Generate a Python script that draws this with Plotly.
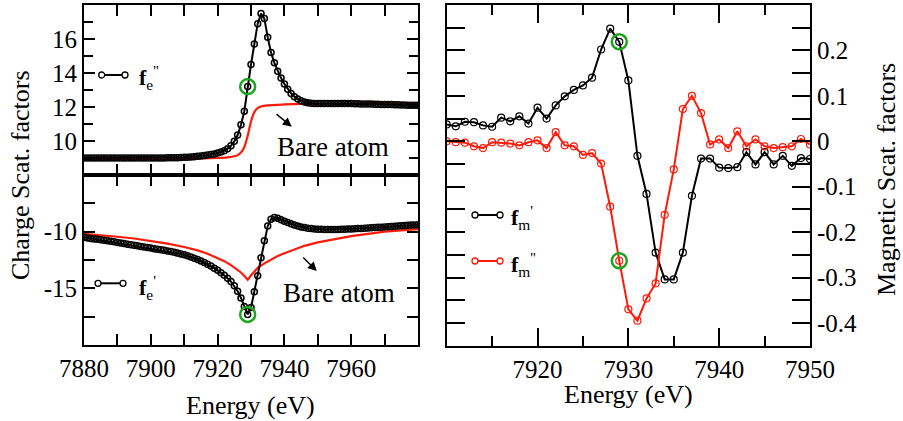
import plotly.graph_objects as go

W, H = 903, 421

# ---------------- data ----------------
energy_left = list(range(7880, 7981))          # 1 eV grid, left panels
fe2_data = [9.0] * 25 + [
    9.01, 9.01, 9.02, 9.02, 9.03, 9.04, 9.05, 9.06, 9.08, 9.10,
    9.12, 9.14, 9.17, 9.20, 9.24, 9.29, 9.35, 9.43, 9.55, 9.72,
    9.98, 10.35, 10.95, 11.75, 13.2, 14.5, 15.7, 16.9, 17.5, 17.2,
    16.1, 15.2, 14.6, 14.1, 13.7, 13.35, 13.05, 12.8, 12.6, 12.47,
    12.37, 12.3, 12.25, 12.22,
    12.2, 12.2, 12.2, 12.2, 12.2, 12.2, 12.2, 12.2, 12.2, 12.2, 12.2, 12.2,
    12.19, 12.19, 12.18, 12.18, 12.17, 12.17, 12.16, 12.16, 12.15, 12.15,
    12.14, 12.14, 12.13, 12.13, 12.12, 12.12, 12.11, 12.11, 12.1, 12.1]
fe1_data = [
    -10.5, -10.55, -10.6, -10.64, -10.68, -10.72, -10.76, -10.8, -10.85, -10.9,
    -10.95, -11.0, -11.05, -11.1, -11.15, -11.2, -11.25, -11.3, -11.35, -11.4,
    -11.45, -11.5, -11.55, -11.6, -11.65, -11.7, -11.76, -11.82, -11.89, -11.96,
    -12.04, -12.13, -12.23, -12.34, -12.46, -12.59, -12.73, -12.88, -13.04, -13.22,
    -13.41, -13.62, -13.85, -14.1, -14.4, -14.78, -15.25, -15.85, -16.6, -17.3,
    -16.7, -15.3, -13.9, -12.3, -10.8, -9.5, -8.9, -8.75, -8.82, -8.95,
    -9.08, -9.2, -9.31, -9.41, -9.5, -9.58, -9.64, -9.69, -9.73, -9.76,
    -9.78, -9.79, -9.8, -9.8, -9.8, -9.8, -9.8, -9.79, -9.78, -9.77,
    -9.76, -9.75, -9.73, -9.72, -9.7, -9.68, -9.66, -9.64, -9.62, -9.6,
    -9.58, -9.56, -9.54, -9.52, -9.5, -9.48, -9.46, -9.44, -9.42, -9.41, -9.4]

bare2_energy = [7880, 7900, 7910, 7915, 7920, 7923, 7925, 7926, 7927, 7928,
                7929, 7930, 7931, 7932, 7933, 7935, 7940, 7950, 7960, 7970, 7980]
bare2_data = [8.93, 8.94, 8.95, 8.97, 9.0, 9.04, 9.1, 9.17, 9.32, 9.65,
              10.3, 11.15, 11.7, 11.93, 12.03, 12.1, 12.15, 12.2, 12.2, 12.18, 12.12]

bare1_energy = [7880, 7885, 7890, 7895, 7900, 7905, 7910, 7914, 7917, 7920,
                7922, 7924, 7926, 7927, 7928, 7929, 7930, 7931, 7932, 7934,
                7936, 7938, 7940, 7943, 7946, 7950, 7955, 7960, 7965, 7970,
                7975, 7980]
bare1_data = [-10.2, -10.3, -10.45, -10.6, -10.8, -11.05, -11.35, -11.65, -11.95, -12.3,
              -12.6, -12.95, -13.35, -13.6, -13.9, -14.25, -13.85, -13.5, -13.2, -12.8,
              -12.45, -12.15, -11.9, -11.55, -11.25, -10.95, -10.65, -10.4, -10.2, -10.0,
              -9.88, -9.78]

energy_right = list(range(7910, 7951))
fm1_data = [0.037, 0.033, 0.043, 0.042, 0.035, 0.032, 0.052, 0.044, 0.055, 0.039,
            0.074, 0.050, 0.079, 0.099, 0.113, 0.123, 0.140, 0.202, 0.248, 0.219,
            0.134, -0.032, -0.116, -0.245, -0.304, -0.304, -0.245, -0.120, -0.038, -0.038,
            -0.058, -0.059, -0.057, -0.024, -0.051, -0.024, -0.051, -0.032, -0.054, -0.037,
            -0.039]
fm2_data = [0.000, -0.002, -0.003, -0.011, -0.015, -0.002, -0.003, -0.005, -0.009, -0.002,
            0.002, -0.015, 0.020, -0.009, -0.011, -0.030, -0.026, -0.049, -0.144, -0.263,
            -0.370, -0.395, -0.346, -0.313, -0.162, -0.062, 0.071, 0.100, 0.062, -0.007,
            0.004, -0.015, 0.022, -0.011, 0.004, -0.011, -0.015, -0.013, -0.011, 0.005,
            -0.007]

highlight_energy = 7929

left_x_ticks = [7880, 7900, 7920, 7940, 7960]
left_x_labels = ["7880", "7900", "7920", "7940", "7960"]
left_x_minor = [7890, 7910, 7930, 7950, 7970]
top_y_ticks = [10, 12, 14, 16]
top_y_labels = ["10", "12", "14", "16"]
top_y_minor = [9, 11, 13, 15, 17]
bot_y_ticks = [-15, -10]
bot_y_labels = ["-15", "-10"]
bot_y_minor = [-17.5, -12.5, -7.5]
right_x_ticks = [7920, 7930, 7940, 7950]
right_x_labels = ["7920", "7930", "7940", "7950"]
right_x_minor = [7915, 7925, 7935, 7945]
right_y_ticks = [-0.4, -0.3, -0.2, -0.1, 0.0, 0.1, 0.2]
right_y_labels = ["-0.4", "-0.3", "-0.2", "-0.1", "0", "0.1", "0.2"]
right_y_minor = [-0.35, -0.25, -0.15, -0.05, 0.05, 0.15, 0.25]

# ---------------- style ----------------
FONT = "Liberation Serif, Times New Roman, DejaVu Serif, serif"
BLACK = "#000000"
RED = "#ff1a0a"
GREEN = "#1ea51e"

def px2x(px):
    return px / W

def px2y(py):
    return 1 - py / H

fig = go.Figure()

mk_left = dict(symbol="circle-open", size=6, line=dict(width=1.5, color=BLACK), color=BLACK)
fig.add_trace(go.Scatter(x=bare2_energy, y=bare2_data, mode="lines", line=dict(color=RED, width=2.2, shape="spline", smoothing=0.8),
                         xaxis="x", yaxis="y", showlegend=False))
fig.add_trace(go.Scatter(x=energy_left, y=fe2_data, mode="lines+markers", line=dict(color=BLACK, width=2),
                         marker=mk_left, xaxis="x", yaxis="y", showlegend=False))
fig.add_trace(go.Scatter(x=bare1_energy, y=bare1_data, mode="lines", line=dict(color=RED, width=2.2),
                         xaxis="x2", yaxis="y2", showlegend=False))
fig.add_trace(go.Scatter(x=energy_left, y=fe1_data, mode="lines+markers", line=dict(color=BLACK, width=2),
                         marker=mk_left, xaxis="x2", yaxis="y2", showlegend=False))

mk_r_black = dict(symbol="circle-open", size=7, line=dict(width=1.2, color=BLACK), color=BLACK)
mk_r_red = dict(symbol="circle-open", size=7, line=dict(width=1.2, color=RED), color=RED)
fig.add_trace(go.Scatter(x=energy_right, y=fm1_data, mode="lines+markers", line=dict(color=BLACK, width=2),
                         marker=mk_r_black, xaxis="x3", yaxis="y3", showlegend=False))
fig.add_trace(go.Scatter(x=energy_right, y=fm2_data, mode="lines+markers", line=dict(color=RED, width=2),
                         marker=mk_r_red, xaxis="x3", yaxis="y3", showlegend=False))

# green highlight circles
iL = energy_left.index(highlight_energy)
iR = energy_right.index(highlight_energy)
gm = dict(symbol="circle-open", size=15, line=dict(width=2.5, color=GREEN), color=GREEN)
for xa, ya, xv, yv in [("x", "y", energy_left[iL], fe2_data[iL]),
                       ("x2", "y2", energy_left[iL], fe1_data[iL]),
                       ("x3", "y3", energy_right[iR], fm1_data[iR]),
                       ("x3", "y3", energy_right[iR], fm2_data[iR])]:
    fig.add_trace(go.Scatter(x=[xv], y=[yv], mode="markers", marker=gm, xaxis=xa, yaxis=ya,
                             showlegend=False, hoverinfo="skip"))

tickfont = dict(family=FONT, size=25, color=BLACK)
axis_common = dict(showline=True, linecolor=BLACK, linewidth=2, mirror="allticks", ticks="inside",
                   tickcolor=BLACK, tickwidth=1.5, ticklen=11, showgrid=False, zeroline=False,
                   tickfont=tickfont, tickmode="array", automargin=False)

def minor(vals, length):
    return dict(tickmode="array", tickvals=vals, ticks="inside", ticklen=length,
                tickcolor=BLACK, tickwidth=1.5, showgrid=False)

LX0, LX1 = 84, 418
RX0, RX1 = 446.7, 810
fig.update_layout(
    template="none",
    width=W, height=H, margin=dict(l=0, r=0, t=0, b=0, pad=0),
    paper_bgcolor="white", plot_bgcolor="white",
    xaxis=dict(axis_common, domain=[px2x(LX0), px2x(LX1)], range=[7880, 7980], anchor="y",
               tickvals=left_x_ticks, ticktext=left_x_labels, showticklabels=False,
               minor=minor(left_x_minor, 11)),
    yaxis=dict(axis_common, domain=[px2y(175), px2y(5)], range=[8, 18], anchor="x",
               tickvals=top_y_ticks, ticktext=top_y_labels, minor=minor(top_y_minor, 9)),
    xaxis2=dict(axis_common, domain=[px2x(LX0), px2x(LX1)], range=[7880, 7980], anchor="y2",
                tickvals=left_x_ticks, ticktext=left_x_labels, minor=minor(left_x_minor, 11)),
    yaxis2=dict(axis_common, domain=[px2y(345), px2y(175)], range=[-20, -5], anchor="x2",
                tickvals=bot_y_ticks, ticktext=bot_y_labels, minor=minor(bot_y_minor, 11)),
    xaxis3=dict(axis_common, domain=[px2x(RX0), px2x(RX1)], range=[7910, 7950], anchor="y3",
                tickvals=right_x_ticks, ticktext=right_x_labels, ticklen=18,
                minor=minor(right_x_minor, 10)),
    yaxis3=dict(axis_common, domain=[px2y(345.7), px2y(5)], range=[-0.45, 0.30], anchor="x3",
                side="right", tickvals=right_y_ticks, ticktext=right_y_labels, ticklen=18,
                minor=minor(right_y_minor, 18)),
)

# legend glyphs (line with circles at both ends)
shapes = []
def glyph(x0, x1, y, color):
    shapes.append(dict(type="line", xref="paper", yref="paper", x0=px2x(x0), x1=px2x(x1),
                       y0=px2y(y), y1=px2y(y), line=dict(color=color, width=2)))
    r = 3
    for cx in (x0, x1):
        shapes.append(dict(type="circle", xref="paper", yref="paper", x0=px2x(cx - r), x1=px2x(cx + r),
                           y0=px2y(y + r), y1=px2y(y - r), line=dict(color=color, width=1.3),
                           fillcolor="white"))
glyph(101.7, 125, 75, BLACK)
glyph(98, 123, 283.3, BLACK)
glyph(475, 500, 215, BLACK)
glyph(475, 500, 261, RED)
fig.update_layout(shapes=shapes)

ann = []
def text(px, py, s, size=26, angle=0, xanchor="center"):
    ann.append(dict(x=px2x(px), y=px2y(py), xref="paper", yref="paper", text=s, showarrow=False,
                    font=dict(family=FONT, size=size, color=BLACK), textangle=angle,
                    xanchor=xanchor, yanchor="middle"))

text(137, 78, "<b>f</b><sub>e</sub><sup>''</sup>", size=22, xanchor="left")
text(137, 287, "<b>f</b><sub>e</sub><sup>'</sup>", size=22, xanchor="left")
text(509, 218, "<b>f</b><sub>m</sub><sup>'</sup>", size=22, xanchor="left")
text(509, 264, "<b>f</b><sub>m</sub><sup>''</sup>", size=22, xanchor="left")
text(333, 147, "Bare atom", size=27)
text(339, 293, "Bare atom", size=27)
text(250, 405, "Energy (eV)", size=26)
text(628, 394, "Energy (eV)", size=26)
text(20, 175, "Charge Scat. factors", size=26, angle=-90)
text(886, 180, "Magnetic Scat. factors", size=26, angle=-90)

# arrows
ann.append(dict(x=7942.2, y=10.84, ax=7937.2, ay=11.65, xref="x", yref="y", axref="x", ayref="y",
                showarrow=True, arrowhead=2, arrowsize=1.2, arrowwidth=1.5, arrowcolor=BLACK, text=""))
ann.append(dict(x=7949.7, y=-13.48, ax=7945.2, ay=-12.14, xref="x2", yref="y2", axref="x2", ayref="y2",
                showarrow=True, arrowhead=2, arrowsize=1.2, arrowwidth=1.5, arrowcolor=BLACK, text=""))
fig.update_layout(annotations=ann)

fig.write_html("out.html")
